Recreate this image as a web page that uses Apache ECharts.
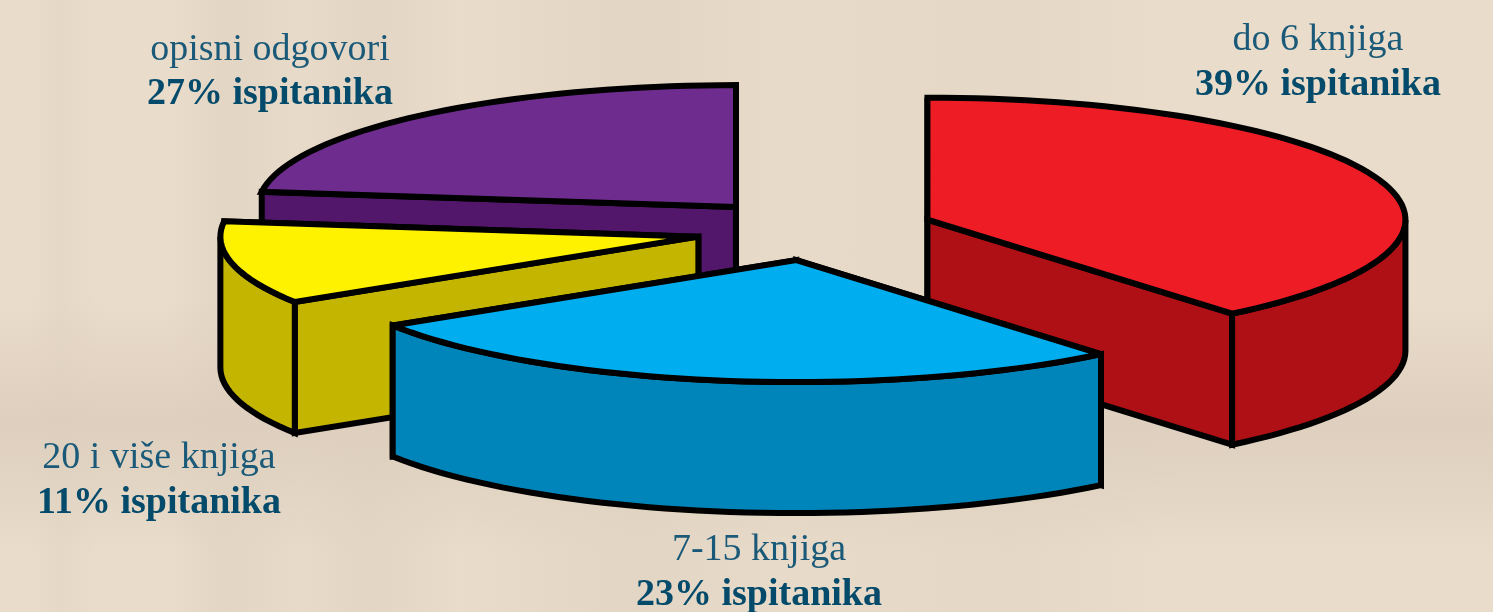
<!DOCTYPE html>
<html>
<head>
<meta charset="utf-8">
<title>Broj pročitanih knjiga</title>
<style>
    html, body {margin: 0; height: 100%; overflow: hidden; background: #eadcca;}
    #bands {
        position: absolute; left: 0; top: 0; width: 100%; height: 100%;
        background:
            linear-gradient(180deg, rgba(233,219,201,0) 300px, rgba(220,205,188,.85) 420px, rgba(222,208,191,.7) 470px, rgba(233,219,201,0) 550px),
            linear-gradient(90deg, rgba(222,208,190,0) 30px, rgba(222,208,190,.3) 60px, rgba(222,208,190,0) 100px, rgba(222,208,190,0) 170px, rgba(222,208,190,.55) 225px, rgba(222,208,190,.15) 300px, rgba(222,208,190,.55) 370px, rgba(222,208,190,.05) 460px, rgba(222,208,190,.55) 640px, rgba(222,208,190,.15) 780px, rgba(222,208,190,.35) 1010px, rgba(222,208,190,0) 1180px);
    }
    #main {position: absolute; left: 0; top: 0; width: 1493px; height: 612px;}
</style>
</head>
<body>
<div id="bands"></div>
<div id="main"></div>
<script src="https://cdn.jsdelivr.net/npm/echarts@6/dist/echarts.min.js"></script>
<script>
    const categories = ['do 6 knjiga', '7-15 knjiga', '20 i više knjiga', 'opisni odgovori'];
    // printed percentages
    const printedShare = [39, 23, 11, 27];
    // slice sizes as drawn: in the picture the blue and purple slices don't match their captions
    const drawnShare = [39, 27, 11, 23];

    const topColors = ['#ee1c25', '#00aeef', '#fff200', '#6e2c8f'];
    const sideColors = ['#ae1016', '#0085ba', '#c4b500', '#52176a'];

    // caption centre x, first line y, second line y
    const captionPos = [
        [1318, 40, 85],
        [759, 550, 595],
        [159, 458, 503],
        [270, 50, 94]
    ];

    const pie = {cx: 815, cy: 230, rx: 478, ry: 122, depth: 131, explode: 0.25};
    const border = {stroke: '#000', lineWidth: 6, lineJoin: 'miter', miterLimit: 3};

    const total = drawnShare.reduce((a, b) => a + b, 0);
    let acc = 0;
    const slices = drawnShare.map((v, i) => {
        const start = acc / total * 360;
        acc += v;
        return [i, start, acc / total * 360];
    });
    // back slices first so the front ones cover them
    const midCos = s => Math.cos((s[1] + s[2]) / 2 * Math.PI / 180);
    slices.sort((a, b) => midCos(b) - midCos(a));

    // angle in degrees, clockwise from 12 o'clock
    const rimPoint = (ox, oy, deg, dy) => {
        const a = deg * Math.PI / 180;
        return [ox + pie.rx * Math.sin(a), oy - pie.ry * Math.cos(a) + dy];
    };
    const arcPoints = (ox, oy, from, to, dy) => {
        const pts = [];
        const n = Math.max(2, Math.ceil(Math.abs(to - from) / 2));
        for (let i = 0; i <= n; i++) {
            pts.push(rimPoint(ox, oy, from + (to - from) * i / n, dy));
        }
        return pts;
    };

    const renderSlice = (params, api) => {
        const i = api.value(0), start = api.value(1), end = api.value(2);
        const mid = (start + end) / 2;
        const off = rimPoint(0, 0, mid, 0);
        const ox = pie.cx + off[0] * pie.explode;
        const oy = pie.cy + off[1] * pie.explode;
        const apex = [ox, oy];
        const apexLow = [ox, oy + pie.depth];
        const side = {...border, fill: sideColors[i]};

        const cutFace = deg => ({
            type: 'polygon',
            shape: {points: [apex, rimPoint(ox, oy, deg, 0), rimPoint(ox, oy, deg, pie.depth), apexLow]},
            style: side
        });
        // the face with the lower rim point is nearer to the viewer
        const faces = [start, end].sort((a, b) => Math.cos(b * Math.PI / 180) - Math.cos(a * Math.PI / 180));
        const children = faces.map(cutFace);

        // outer wall, only the part turned to the viewer
        const wallFrom = Math.max(start, 90), wallTo = Math.min(end, 270);
        if (wallTo > wallFrom) {
            children.push({
                type: 'polygon',
                shape: {points: arcPoints(ox, oy, wallFrom, wallTo, 0).concat(arcPoints(ox, oy, wallTo, wallFrom, pie.depth))},
                style: side
            });
        }
        children.push({
            type: 'polygon',
            shape: {points: [apex].concat(arcPoints(ox, oy, start, end, 0))},
            style: {...border, fill: topColors[i]}
        });
        return {type: 'group', children};
    };

    const captions = [];
    categories.forEach((name, i) => {
        const [x, y1, y2] = captionPos[i];
        captions.push({
            type: 'text', x: x, y: y1,
            style: {text: name, align: 'center', verticalAlign: 'middle', fill: '#1a5a78', font: '38px "Liberation Serif"'}
        });
        captions.push({
            type: 'text', x: x, y: y2,
            style: {text: printedShare[i] + '% ispitanika', align: 'center', verticalAlign: 'middle', fill: '#034a6b', font: 'bold 38px "Liberation Serif"'}
        });
    });

    const myChart = echarts.init(document.getElementById('main'), null, {renderer: 'canvas'});
    myChart.setOption({
        animation: false,
        backgroundColor: 'transparent',
        graphic: captions,
        series: [{
            type: 'custom',
            coordinateSystem: 'none',
            silent: true,
            data: slices,
            renderItem: renderSlice
        }]
    });
</script>
</body>
</html>
